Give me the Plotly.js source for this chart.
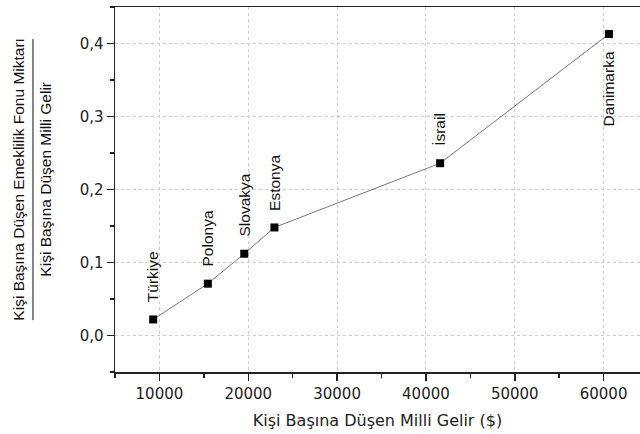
<!DOCTYPE html>
<html>
<head>
<meta charset="utf-8">
<script src="https://cdn.plot.ly/plotly-3.0.1.min.js"></script>
<style>html,body{margin:0;padding:0;background:#fff;}#chart{width:640px;height:434px;}</style>
</head>
<body>
<div id="chart"></div>
<script>
// Data
const countries = ["Türkiye", "Polonya", "Slovakya", "Estonya", "İsrail", "Danimarka"];
const incomeUSD = [9300, 15450, 19550, 22950, 41600, 60600];
const fundRatio = [0.022, 0.071, 0.112, 0.148, 0.236, 0.413];
const labelBelow = [false, false, false, false, false, true];

const yTickVals = [0.0, 0.1, 0.2, 0.3, 0.4];
const yTickText = ["0,0", "0,1", "0,2", "0,3", "0,4"];
const xTickVals = [10000, 20000, 30000, 40000, 50000, 60000];
const xTickText = ["10000", "20000", "30000", "40000", "50000", "60000"];

const xTitle = "Kişi Başına Düşen Milli Gelir ($)";
const yTitleTop = "Kişi Başına Düşen Emeklilik Fonu Miktarı";
const yTitleBottom = "Kişi Başına Düşen Milli Gelir";

const tickFont = {family: "DejaVu Sans", size: 15, color: "#222"};
const titleFont = {family: "DejaVu Sans", size: 16, color: "#222"};
const labelFont = {family: "Liberation Sans", size: 15.5, color: "#111"};

const trace = {
  x: incomeUSD,
  y: fundRatio,
  mode: "lines+markers",
  type: "scatter",
  line: {color: "#777", width: 1},
  marker: {symbol: "square", size: 8, color: "#000"},
  hoverinfo: "skip"
};

const annotations = countries.map((c, i) => ({
  x: incomeUSD[i], y: fundRatio[i], xref: "x", yref: "y",
  text: c, showarrow: false, textangle: -90,
  xanchor: "center",
  yanchor: labelBelow[i] ? "top" : "bottom",
  yshift: labelBelow[i] ? -15 : 15,
  font: labelFont
}));

annotations.push({
  xref: "paper", yref: "paper", x: 0, y: 0.527, xshift: -96,
  text: yTitleTop, showarrow: false, textangle: -90,
  xanchor: "center", yanchor: "middle", font: labelFont
});
annotations.push({
  xref: "paper", yref: "paper", x: 0, y: 0.527, xshift: -69,
  text: yTitleBottom, showarrow: false, textangle: -90,
  xanchor: "center", yanchor: "middle", font: labelFont
});

const layout = {
  width: 640, height: 434,
  margin: {l: 115, r: 0, t: 7, b: 62},
  paper_bgcolor: "#fff", plot_bgcolor: "#fff",
  showlegend: false,
  xaxis: {
    range: [5000, 64100],
    tickvals: xTickVals, ticktext: xTickText,
    ticks: "outside", ticklen: 7, tickwidth: 1.5, tickcolor: "#222",
    minor: {dtick: 5000, tick0: 0, ticks: "outside", ticklen: 4, tickwidth: 1.5, tickcolor: "#222", showgrid: false},
    showline: true, linecolor: "#222", linewidth: 1.5, mirror: true,
    showgrid: true, gridcolor: "#cccccc", griddash: "dot", gridwidth: 1,
    zeroline: false,
    tickfont: tickFont,
    title: {text: xTitle, font: titleFont, standoff: 13},
    automargin: false
  },
  yaxis: {
    range: [-0.05, 0.45],
    tickvals: yTickVals, ticktext: yTickText,
    ticks: "outside", ticklen: 7, tickwidth: 1.5, tickcolor: "#222",
    minor: {dtick: 0.05, tick0: 0, ticks: "outside", ticklen: 4, tickwidth: 1.5, tickcolor: "#222", showgrid: false},
    showline: true, linecolor: "#222", linewidth: 1.5, mirror: false,
    showgrid: true, gridcolor: "#cccccc", griddash: "dot", gridwidth: 1,
    zeroline: false,
    tickfont: tickFont,
    automargin: false
  },
  shapes: [{
    type: "line", xref: "paper", yref: "paper",
    x0: -0.1562, x1: -0.1562, y0: 0.142, y1: 0.912,
    line: {color: "#111", width: 1}
  }],
  annotations: annotations
};

Plotly.newPlot("chart", [trace], layout, {displayModeBar: false, staticPlot: true});
</script>
</body>
</html>
